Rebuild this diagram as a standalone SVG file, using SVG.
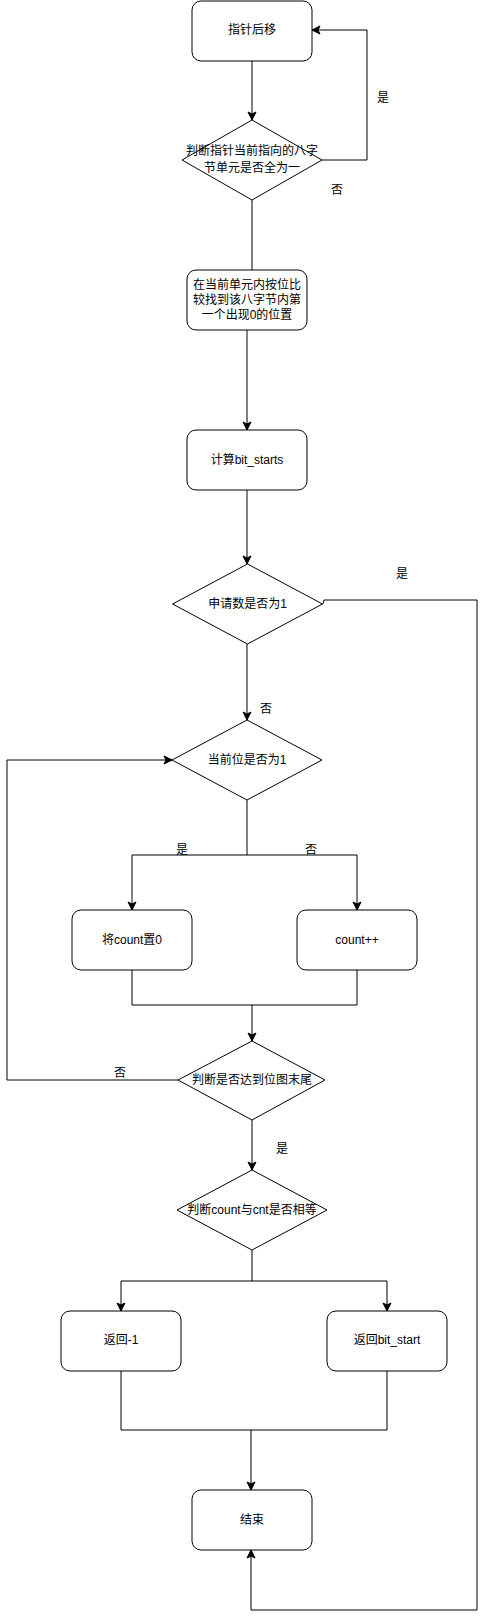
<svg xmlns="http://www.w3.org/2000/svg" width="486" height="1619" viewBox="0 0 486 1619">
<style>
.n{fill:#fff;stroke:#000;stroke-width:1}
.t{font-family:"Liberation Sans","Noto Sans CJK SC",sans-serif;font-size:12px;fill:#000;text-anchor:middle;dominant-baseline:central}
.c{fill:none;stroke:#000;stroke-width:1}
</style>
<defs>
<marker id="a" markerUnits="userSpaceOnUse" markerWidth="10" markerHeight="10" viewBox="0 0 10 10" refX="9" refY="5" orient="auto">
<path d="M1,1 L9,5 L1,9 L3,5 z" fill="#000" stroke="#000" stroke-width="1"/>
</marker>
</defs>
<rect width="486" height="1619" fill="#fff"/>
<g id="connectors">
<path class="c" d="M252,61 V120" marker-end="url(#a)"/>
<path class="c" d="M322,160 H367 V30 H312" marker-end="url(#a)"/>
<path class="c" d="M252,200 V270"/>
<path class="c" d="M247,330 V430" marker-end="url(#a)"/>
<path class="c" d="M247,490 V564" marker-end="url(#a)"/>
<path class="c" d="M323,604 L324,600 H477 V1610 H251 V1550" marker-end="url(#a)"/>
<path class="c" d="M247,644 V720" marker-end="url(#a)"/>
<path class="c" d="M247,800 V855 H132 V910" marker-end="url(#a)"/>
<path class="c" d="M247,855 H357 V910" marker-end="url(#a)"/>
<path class="c" d="M132,970 V1005 H357 V970"/>
<path class="c" d="M252,1005 V1041" marker-end="url(#a)"/>
<path class="c" d="M178,1080 H7 V760 H172" marker-end="url(#a)"/>
<path class="c" d="M252,1120 V1170" marker-end="url(#a)"/>
<path class="c" d="M252,1250 V1281 H121 V1311" marker-end="url(#a)"/>
<path class="c" d="M252,1281 H387 V1311" marker-end="url(#a)"/>
<path class="c" d="M121,1371 V1430 H387 V1371"/>
<path class="c" d="M251,1430 V1490" marker-end="url(#a)"/>
<text class="t" x="383" y="98">是</text>
<text class="t" x="337" y="190">否</text>
<text class="t" x="402" y="574">是</text>
<text class="t" x="266" y="709">否</text>
<text class="t" x="182" y="850">是</text>
<text class="t" x="311" y="850">否</text>
<text class="t" x="120" y="1073">否</text>
<text class="t" x="282" y="1149">是</text>
</g>
<g id="n1"><rect class="n" x="192" y="1" width="120" height="60" rx="9"/><text class="t" x="252" y="30">指针后移</text></g>
<g id="n2"><path class="n" d="M252,120 L322,160 L252,200 L182,160 Z"/><text class="t" x="252" y="151">判断指针当前指向的八字</text><text class="t" x="252" y="168">节单元是否全为一</text></g>
<g id="n3"><rect class="n" x="187" y="270" width="120" height="60" rx="9"/><text class="t" x="247" y="285">在当前单元内按位比</text><text class="t" x="247" y="300">较找到该八字节内第</text><text class="t" x="247" y="315">一个出现0的位置</text></g>
<g id="n4"><rect class="n" x="187" y="430" width="120" height="60" rx="9"/><text class="t" x="247" y="460">计算bit_starts</text></g>
<g id="n5"><path class="n" d="M247.5,564 L322.5,604 L247.5,644 L172.5,604 Z"/><text class="t" x="247.5" y="604">申请数是否为1</text></g>
<g id="n6"><path class="n" d="M247,720 L322,760 L247,800 L172,760 Z"/><text class="t" x="247" y="760">当前位是否为1</text></g>
<g id="n7"><rect class="n" x="72" y="910" width="120" height="60" rx="9"/><text class="t" x="132" y="940">将count置0</text></g>
<g id="n8"><rect class="n" x="297" y="910" width="120" height="60" rx="9"/><text class="t" x="357" y="940">count++</text></g>
<g id="n9"><path class="n" d="M252,1041 L325,1080 L252,1120 L178,1080 Z"/><text class="t" x="252" y="1080">判断是否达到位图末尾</text></g>
<g id="n10"><path class="n" d="M252,1170 L327,1210 L252,1250 L177,1210 Z"/><text class="t" x="252" y="1210">判断count与cnt是否相等</text></g>
<g id="n11"><rect class="n" x="61" y="1311" width="120" height="60" rx="9"/><text class="t" x="121" y="1340">返回-1</text></g>
<g id="n12"><rect class="n" x="327" y="1311" width="120" height="60" rx="9"/><text class="t" x="387" y="1340">返回bit_start</text></g>
<g id="n13"><rect class="n" x="192" y="1490" width="120" height="60" rx="9"/><text class="t" x="252" y="1520">结束</text></g>
</svg>
